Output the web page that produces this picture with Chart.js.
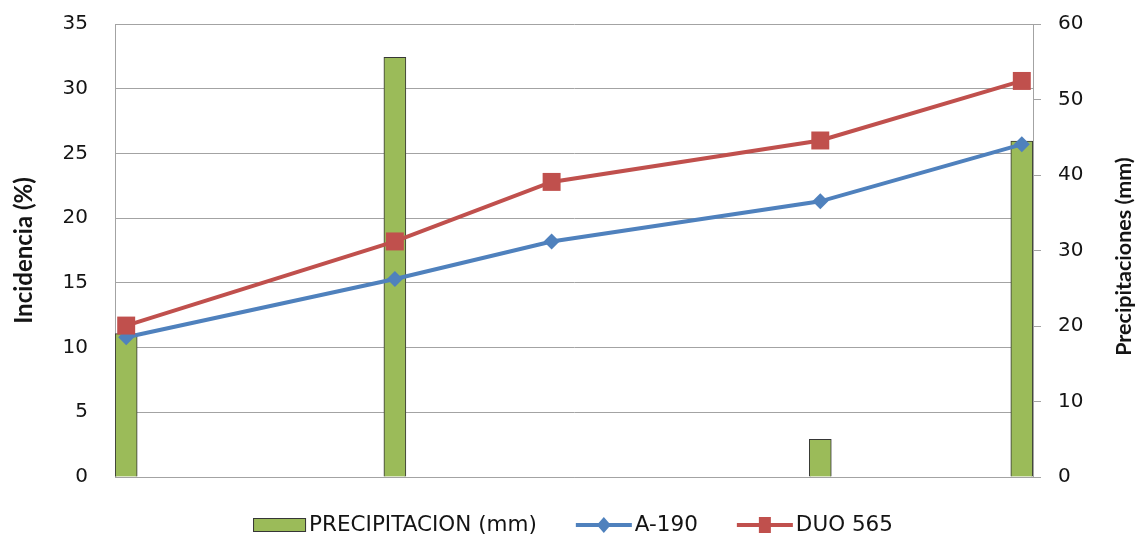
<!DOCTYPE html>
<html>
<head>
<meta charset="utf-8">
<script src="https://cdn.jsdelivr.net/npm/chart.js@4.4.1/dist/chart.umd.min.js"></script>
<style>
  html, body { margin: 0; padding: 0; background: #ffffff; }
  #wrap { width: 1138px; height: 535px; }
</style>
</head>
<body>
<div id="wrap"><canvas id="chart" width="1138" height="535"></canvas></div>
<script>
// Assessment days, counted from the first assessment
const samplingDays = [0, 12, 19, 31, 40];
// Disease incidence (%) per variety
const incidenceA190 = [10.8, 15.3, 18.2, 21.3, 25.7];
const incidenceDuo565 = [11.7, 18.2, 22.8, 26.0, 30.6];
// Rainfall events (day, mm)
const rainDays = [0, 12, 31, 40];
const rainfallMm = [19.0, 55.6, 5.0, 44.5];
// Axis tick values
const incidenceTicks = [0, 5, 10, 15, 20, 25, 30, 35];
const rainTicks = [0, 10, 20, 30, 40, 50, 60];

const GRID = '#a3a3a3';
const TEXT = '#141414';
const TICK_FONT = { family: 'DejaVu Sans', size: 20 };
const KEY_FONT = '21.5px "DejaVu Sans"';
const RIGHT_TITLE_FONT = 'bold 21.5px Lato';

const pairs = (xs, ys) => xs.map((x, i) => ({ x, y: ys[i] }));

// Keep the plot box fixed: fixed axis widths and no extra room for tick-label overhang
const fixWidth = w => s => { s.width = w; s.paddingTop = 0; s.paddingBottom = 0; };

// Legend row under the plot plus the right-hand axis title (reads bottom to top)
const sideTitleAndKey = {
  id: 'sideTitleAndKey',
  afterDraw(chart) {
    const { ctx, chartArea } = chart;
    const y1 = chart.scales.y1;
    const rightTitle = chart.options.scales.y1.title.text;

    ctx.save();
    ctx.font = RIGHT_TITLE_FONT;
    ctx.fillStyle = TEXT;
    ctx.textAlign = 'center';
    ctx.textBaseline = 'middle';
    ctx.translate(y1.right - 14, (chartArea.top + chartArea.bottom) / 2 + 6);
    ctx.rotate(-Math.PI / 2);
    ctx.fillText(rightTitle, 0, 0);
    ctx.restore();

    ctx.save();
    ctx.font = KEY_FONT;
    ctx.textBaseline = 'middle';
    ctx.textAlign = 'left';
    const gap = 39, textGap = 3;
    const items = chart.data.datasets.map(ds => {
      const symbolW = ds.type === 'bar' ? 53 : 56;
      return { ds, symbolW, textW: ctx.measureText(ds.label).width };
    });
    const total = items.reduce((s, it) => s + it.symbolW + textGap + it.textW, 0) + gap * (items.length - 1);
    let x = (chartArea.left + chartArea.right) / 2 - total / 2 - 1;
    const cy = chart.height - 10;
    items.forEach(it => {
      const ds = it.ds;
      if (ds.type === 'bar') {
        ctx.fillStyle = ds.backgroundColor;
        ctx.fillRect(x, cy - 7, it.symbolW, 14);
        ctx.strokeStyle = ds.borderColor;
        ctx.lineWidth = 1;
        ctx.strokeRect(x + 0.5, cy - 6.5, it.symbolW - 1, 13);
      } else {
        ctx.strokeStyle = ds.borderColor;
        ctx.lineWidth = 4;
        ctx.beginPath();
        ctx.moveTo(x, cy);
        ctx.lineTo(x + it.symbolW, cy);
        ctx.stroke();
        const mx = x + it.symbolW / 2;
        ctx.fillStyle = ds.backgroundColor;
        ctx.beginPath();
        if (ds.pointStyle === 'rectRot') {
          ctx.moveTo(mx - 7, cy);
          ctx.lineTo(mx, cy - 8);
          ctx.lineTo(mx + 7, cy);
          ctx.lineTo(mx, cy + 8);
          ctx.closePath();
        } else {
          ctx.rect(mx - 6, cy - 8, 12, 16);
        }
        ctx.fill();
      }
      x += it.symbolW + textGap;
      ctx.fillStyle = TEXT;
      ctx.fillText(ds.label, x, cy);
      x += it.textW + gap;
    });
    ctx.restore();
  }
};

new Chart(document.getElementById('chart'), {
  type: 'line',
  data: {
    datasets: [
      {
        type: 'bar',
        label: 'PRECIPITACION (mm)',
        data: pairs(rainDays, rainfallMm),
        yAxisID: 'y1',
        backgroundColor: '#9bbb59',
        borderColor: '#363636',
        borderWidth: 1,
        barThickness: 22,
        order: 3
      },
      {
        type: 'line',
        label: 'A-190',
        data: pairs(samplingDays, incidenceA190),
        yAxisID: 'y',
        borderColor: '#4f81bd',
        backgroundColor: '#4f81bd',
        borderWidth: 4,
        tension: 0,
        pointStyle: 'rectRot',
        pointRadius: 8,
        pointBorderWidth: 0,
        order: 2
      },
      {
        type: 'line',
        label: 'DUO 565',
        data: pairs(samplingDays, incidenceDuo565),
        yAxisID: 'y',
        borderColor: '#c0504d',
        backgroundColor: '#c0504d',
        borderWidth: 4,
        tension: 0,
        pointStyle: 'rect',
        pointRadius: 12.7,
        pointBorderWidth: 0,
        order: 1
      }
    ]
  },
  options: {
    responsive: false,
    animation: false,
    events: [],
    layout: { padding: { top: 24, left: 0, right: 0, bottom: 0 } },
    plugins: {
      legend: { display: false },
      tooltip: { enabled: false }
    },
    scales: {
      x: {
        type: 'linear',
        min: -0.5,
        max: 40.5,
        offset: false,
        ticks: { display: false },
        grid: { display: false, drawTicks: false },
        border: { display: true, color: GRID, width: 1 },
        afterFit: s => { s.height = 58; }
      },
      y: {
        position: 'left',
        min: 0,
        max: 35,
        afterBuildTicks: s => { s.ticks = incidenceTicks.map(v => ({ value: v })); },
        ticks: { padding: 27, font: TICK_FONT, color: TEXT },
        grid: { color: GRID, lineWidth: 1, drawTicks: false },
        border: { color: GRID, width: 1 },
        title: {
          display: true,
          text: 'Incidencia (%)',
          color: TEXT,
          font: { family: 'Lato', weight: 'bold', size: 24 },
          padding: { top: 10, bottom: 0 }
        },
        afterFit: fixWidth(115)
      },
      y1: {
        position: 'right',
        min: 0,
        max: 60,
        afterBuildTicks: s => { s.ticks = rainTicks.map(v => ({ value: v })); },
        ticks: { padding: 17, font: TICK_FONT, color: TEXT },
        grid: { drawOnChartArea: false, drawTicks: true, tickLength: 8, color: GRID, lineWidth: 1 },
        border: { color: GRID, width: 1 },
        title: { display: false, text: 'Precipitaciones (mm)' },
        afterFit: fixWidth(105)
      }
    }
  },
  plugins: [sideTitleAndKey]
});
</script>
</body>
</html>
